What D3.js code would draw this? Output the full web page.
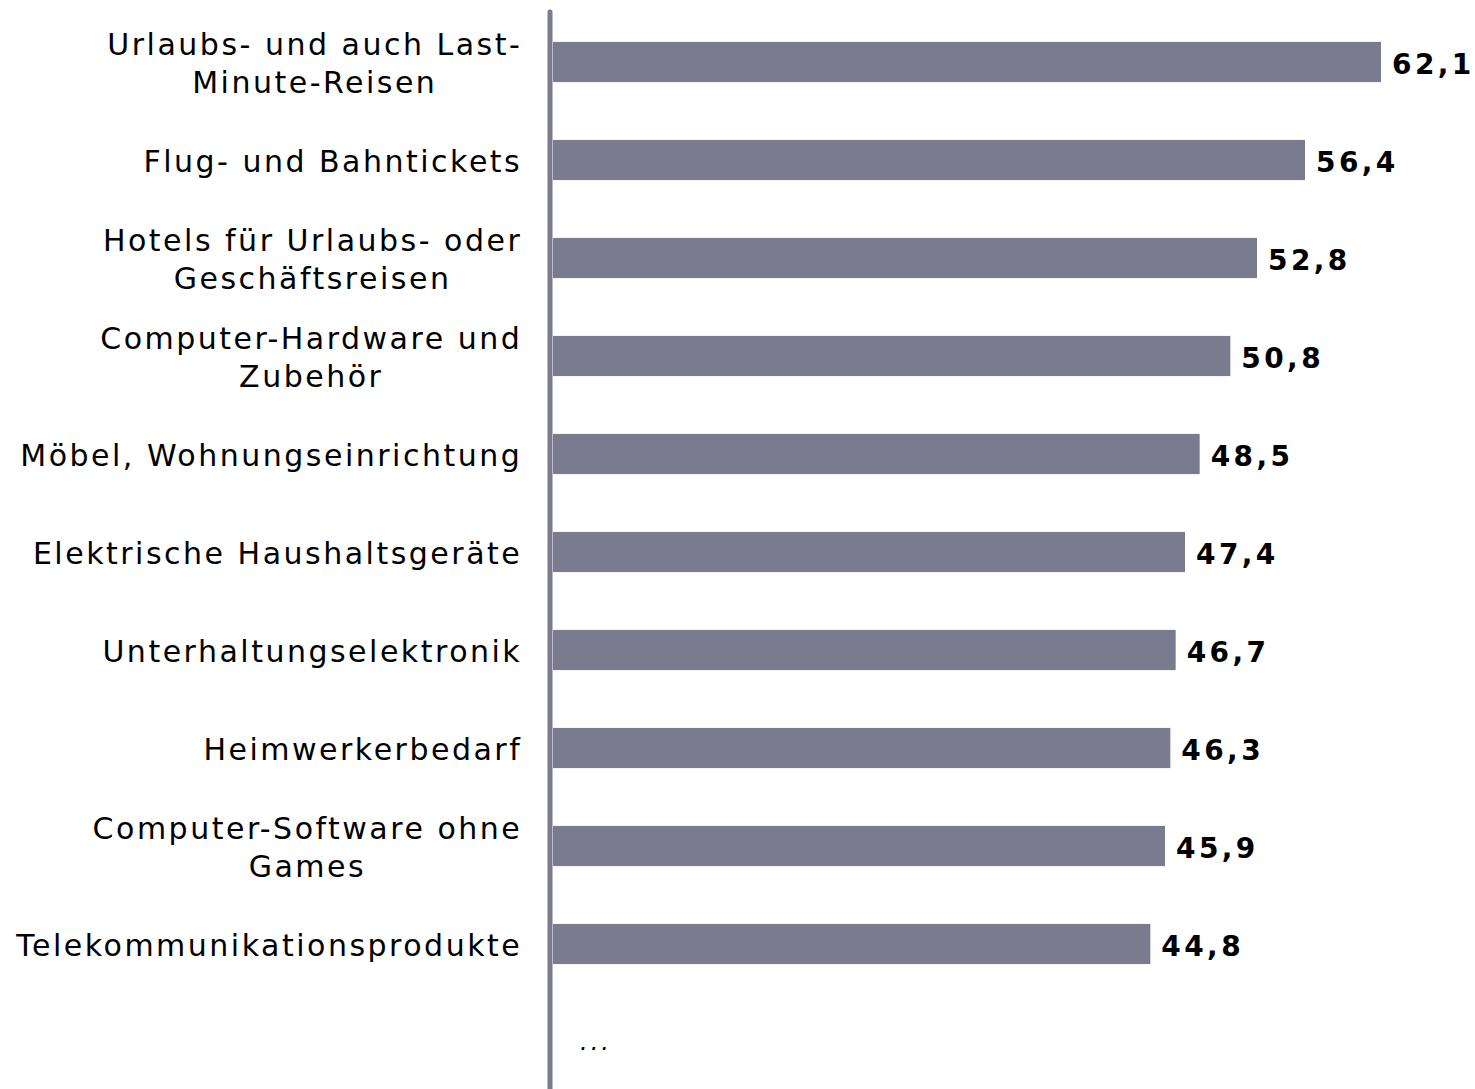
<!DOCTYPE html>
<html>
<head>
<meta charset="utf-8">
<script src="https://cdn.jsdelivr.net/npm/d3@7"></script>
<style>
  body { margin: 0; background: #fff; }
  svg { display: block; }
  .cat { font-family: "DejaVu Sans", Verdana, sans-serif; font-size: 30px; fill: #000; letter-spacing: 2.5px; }
  .val { font-family: "DejaVu Sans", Verdana, sans-serif; font-size: 28px; font-weight: bold; fill: #000; letter-spacing: 3.4px; }
</style>
</head>
<body>
<svg id="chart" width="1475" height="1089"></svg>
<script>
const categories = [
  ["Urlaubs- und auch Last-", "Minute-Reisen"],
  ["Flug- und Bahntickets"],
  ["Hotels für Urlaubs- oder", "Geschäftsreisen"],
  ["Computer-Hardware und", "Zubehör"],
  ["Möbel, Wohnungseinrichtung"],
  ["Elektrische Haushaltsgeräte"],
  ["Unterhaltungselektronik"],
  ["Heimwerkerbedarf"],
  ["Computer-Software ohne", "Games"],
  ["Telekommunikationsprodukte"]
];
const values = [62.1, 56.4, 52.8, 50.8, 48.5, 47.4, 46.7, 46.3, 45.9, 44.8];
const moreLabel = "...";

const svg = d3.select("#chart");
const barColor = "#7b7b90";
const labelRight = 521;
const catSpacing = 2.5;

// 10 bars plus one row for the "..." at the bottom
const rows = d3.range(categories.length + 1);
const y = d3.scaleBand()
  .domain(rows)
  .range([13, 13 + 98 * rows.length])
  .paddingInner(0.59)
  .paddingOuter(0.295);

const x = d3.scaleLinear().domain([0, 75]).range([553, 1553]);

const data = values.map((v, i) => ({ value: v, lines: categories[i], idx: i }));

svg.selectAll("rect.bar")
  .data(data)
  .enter()
  .append("rect")
  .attr("class", "bar")
  .attr("x", x(0))
  .attr("y", d => y(d.idx))
  .attr("width", d => x(d.value) - x(0))
  .attr("height", y.bandwidth())
  .attr("fill", barColor);

svg.selectAll("text.val")
  .data(data)
  .enter()
  .append("text")
  .attr("class", "val")
  .attr("x", d => x(d.value) + 11)
  .attr("y", d => y(d.idx) + y.bandwidth() / 2 + 2)
  .attr("dy", "0.36em")
  .text(d => d.value.toFixed(1).replace(".", ","));

// category labels: block right aligned, lines centred within the block
const lineH = 38;
const groups = svg.selectAll("g.cat")
  .data(data)
  .enter()
  .append("g")
  .attr("class", "cat-group");

groups.each((d, i, nodes) => {
  const g = d3.select(nodes[i]);
  const cy = y(d.idx) + y.bandwidth() / 2 + 1;
  const texts = d.lines.map((line, j) => g.append("text")
    .attr("class", "cat")
    .attr("y", cy + (j - (d.lines.length - 1) / 2) * lineH)
    .attr("dy", "0.36em")
    .attr("text-anchor", "middle")
    .text(line));
  // trailing letter-spacing is counted in the length, drop it
  const maxW = d3.max(texts, t => t.node().getComputedTextLength()) - catSpacing;
  texts.forEach(t => t.attr("x", labelRight - maxW / 2));
});

svg.append("text")
  .attr("class", "cat")
  .attr("x", 580)
  .attr("y", y(categories.length) + y.bandwidth() / 2 - 1)
  .attr("dy", "0.36em")
  .style("font-style", "italic")
  .style("font-size", "24px")
  .style("letter-spacing", "3px")
  .text(moreLabel);

// vertical axis line
svg.append("line")
  .attr("x1", 550)
  .attr("x2", 550)
  .attr("y1", 12)
  .attr("y2", 1095)
  .attr("stroke", barColor)
  .attr("stroke-width", 5)
  .attr("stroke-linecap", "round");
</script>
</body>
</html>
